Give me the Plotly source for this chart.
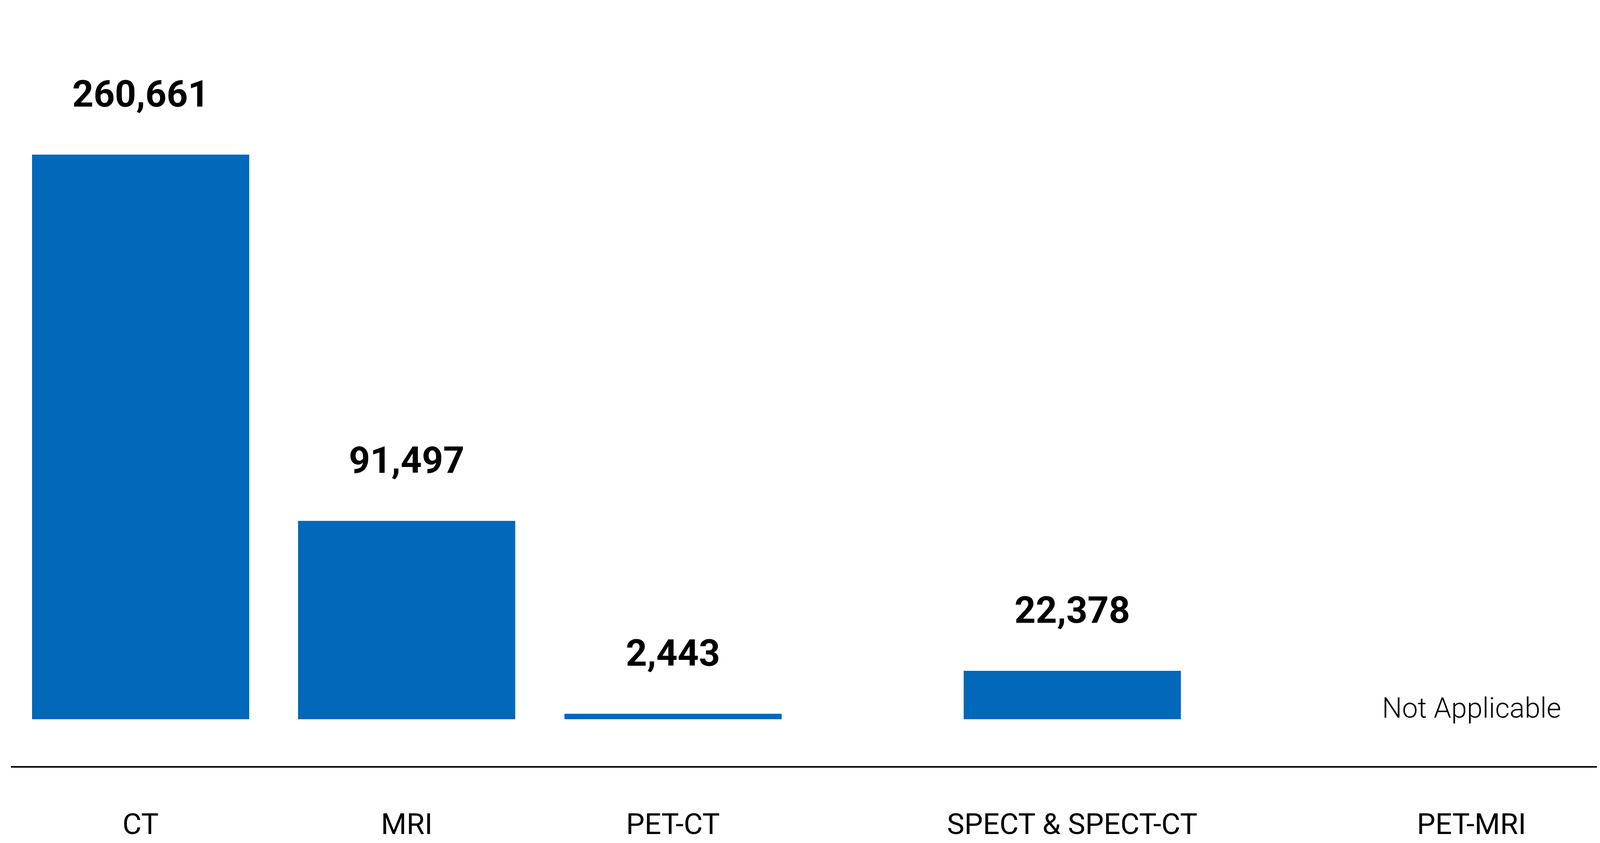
import plotly.graph_objects as go

# ---- data ----
categories = ["CT", "MRI", "PET-CT", "SPECT & SPECT-CT", "PET-MRI"]
values = [260661, 91497, 2443, 22378, None]
value_labels = ["260,661", "91,497", "2,443", "22,378", "Not Applicable"]

# ---- layout (slot positions along the x axis) ----
slot_positions = [0, 1, 2, 3.5, 5]

BAR_COLOR = "#0268BA"

fig = go.Figure()
fig.add_trace(go.Bar(
    x=slot_positions,
    y=values,
    width=0.816,
    marker=dict(color=BAR_COLOR, line=dict(width=0)),
    hoverinfo="skip",
    showlegend=False,
))

annotations = []
for xp, v, lab in zip(slot_positions, values, value_labels):
    if v is None:
        annotations.append(dict(
            x=xp, y=0, xref="x", yref="y", text=lab, showarrow=False,
            yanchor="bottom", xanchor="center", yshift=-16,
            font=dict(family="Roboto", size=72, color="#000000", weight=300),
        ))
    else:
        annotations.append(dict(
            x=xp, y=v, xref="x", yref="y", text=lab, showarrow=False,
            yanchor="bottom", xanchor="center", yshift=98,
            font=dict(family="Roboto", size=95, color="#000000", weight=700),
        ))

fig.update_layout(
    autosize=True,
    margin=dict(l=20, r=0, t=0, b=205, pad=0),
    paper_bgcolor="white",
    plot_bgcolor="white",
    annotations=annotations,
    bargap=0,
    xaxis=dict(
        range=[-0.487, 5.471],
        tickvals=slot_positions,
        ticktext=categories,
        showgrid=False,
        zeroline=False,
        showline=True,
        linecolor="#000000",
        linewidth=3.5,
        ticks="",
        ticklabelstandoff=80,
        tickfont=dict(family="Roboto", size=75, color="#000000"),
        fixedrange=True,
    ),
    yaxis=dict(
        range=[-21632, 330615],
        visible=False,
        showgrid=False,
        zeroline=False,
        fixedrange=True,
    ),
)

fig.write_html("out.html", default_width="100%", default_height="100vh")
